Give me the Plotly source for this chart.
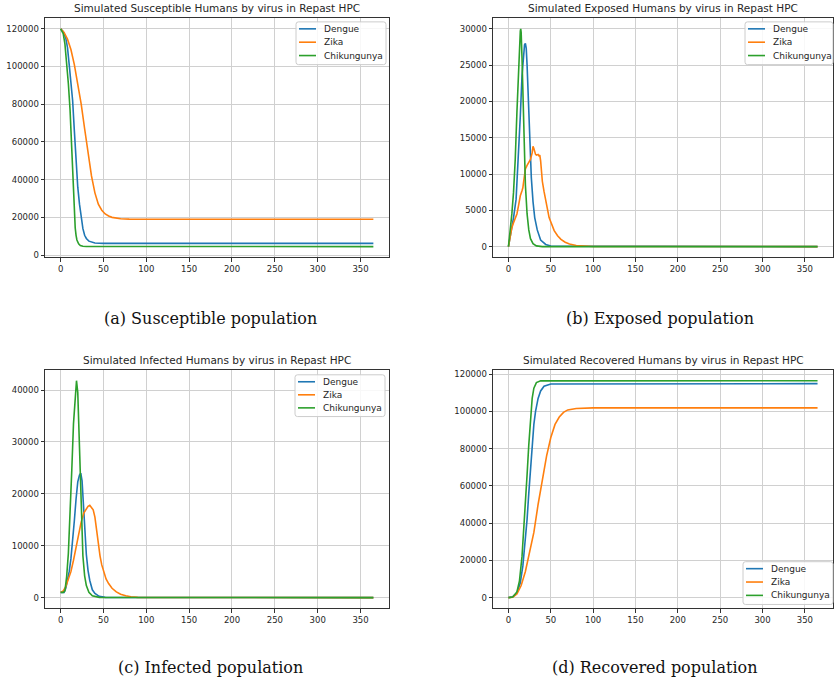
import plotly.graph_objects as go

W, H = 834, 686

SERIES_NAMES = ["Dengue", "Zika", "Chikungunya"]
COLORS = ["#1f77b4", "#ff7f0e", "#2ca02c"]

# ---------------- Susceptible ----------------
S_DENGUE_DAYS = [0, 3, 6, 8, 10, 12, 14, 16, 18, 20, 22, 24, 26, 28, 30, 33, 36, 40, 50, 365]
S_DENGUE = [120000, 118500, 115000, 110000, 101000, 92000, 82000, 66000, 50000, 36000, 27000,
            19500, 14000, 10500, 8800, 7400, 6800, 6400, 6200, 6200]
S_ZIKA_DAYS = [0, 4, 8, 12, 16, 20, 24, 28, 32, 36, 40, 44, 48, 52, 56, 60, 70, 80, 100, 365]
S_ZIKA = [120000, 118000, 114500, 109000, 101000, 91000, 80000, 67000, 54000, 42000, 33000,
          27000, 23800, 21800, 20700, 20000, 19300, 19050, 19000, 19000]
S_CHIK_DAYS = [0, 3, 5, 7, 9, 11, 12, 13, 14, 15, 16, 17, 18, 19, 21, 23, 26, 30, 365]
S_CHIK = [120000, 117500, 112000, 102500, 91000, 77000, 66000, 52000, 40000, 31000, 21000,
          14500, 10500, 8000, 6000, 5100, 4700, 4550, 4500]

# ---------------- Exposed ----------------
E_DENGUE_DAYS = [0, 3, 6, 9, 12, 14, 16, 18, 19, 20, 21, 22, 23, 24, 25, 27, 29, 31, 34, 38, 44, 50, 365]
E_DENGUE = [0, 1800, 4000, 6500, 12500, 18000, 23500, 27000, 27800, 28000, 27300, 25000, 21500,
            18000, 15000, 9500, 6200, 4000, 2300, 900, 300, 80, 0]
E_ZIKA_DAYS = [0, 2, 4, 6, 8, 10, 12, 14, 16, 17, 18, 19, 20, 22, 24, 26, 28, 29, 30, 31, 32, 33, 34,
               35, 36, 37, 38, 39, 40, 42, 44, 46, 48, 51, 54, 58, 62, 67, 72, 80, 90, 100, 365]
E_ZIKA = [0, 1500, 2600, 3300, 3900, 4500, 5700, 7000, 7700, 8100, 9000, 10000, 10700, 11200, 11600,
          12000, 12900, 13800, 13500, 13000, 12700, 12600, 12700, 12700, 12500, 12600, 11800, 10500,
          9000, 7600, 6600, 5200, 4000, 3000, 2200, 1500, 1000, 600, 350, 150, 50, 20, 0]
E_CHIK_DAYS = [0, 2, 4, 6, 8, 10, 12, 13, 14, 14.5, 15, 16, 17, 18, 19, 20, 22, 24, 26, 29, 33, 40, 365]
E_CHIK = [0, 2000, 4500, 7500, 12000, 18500, 25500, 28500, 29700, 30000, 29500, 26000, 21000, 16000,
          12000, 8500, 4500, 2300, 1100, 400, 100, 0, 0]

# ---------------- Infected ----------------
I_DENGUE_DAYS = [0, 4, 6, 8, 10, 12, 14, 16, 18, 20, 22, 23.5, 25, 26, 27, 28, 29, 30, 32, 34, 37, 40,
                 45, 52, 365]
I_DENGUE = [1000, 1000, 1800, 3300, 5000, 7500, 10800, 14800, 19000, 22300, 23600, 24000, 22500,
            19500, 16500, 13000, 10500, 8300, 5200, 3300, 1500, 800, 250, 50, 0]
I_ZIKA_DAYS = [0, 3, 6, 9, 12, 15, 18, 21, 24, 27, 30, 32, 34, 36, 38, 40, 42, 44, 46, 48, 50, 53, 56,
               60, 65, 70, 76, 82, 90, 100, 365]
I_ZIKA = [1000, 1300, 2100, 3400, 5000, 7200, 9800, 12300, 14600, 16300, 17200, 17600, 17800, 17400,
          16900, 15500, 12800, 10300, 8000, 6300, 5000, 3600, 2700, 1800, 1100, 650, 350, 150, 50, 10, 0]
I_CHIK_DAYS = [0, 3, 5, 7, 9, 11, 13, 15, 17, 18.5, 20, 21, 22, 23, 24, 25, 26, 28, 30, 33, 37, 45, 365]
I_CHIK = [1000, 1000, 1300, 4000, 8500, 15500, 24500, 33500, 39500, 41800, 39500, 34500, 27500, 21000,
          15500, 11000, 8000, 4200, 2300, 1000, 350, 50, 0]

# ---------------- Recovered ----------------
R_DENGUE_DAYS = [0, 5, 10, 14, 17, 20, 22, 24, 26, 28, 30, 32, 35, 38, 42, 50, 365]
R_DENGUE = [0, 400, 2500, 8000, 17000, 30000, 42000, 56000, 70000, 83000, 93000, 100000, 107000,
            111000, 113500, 114700, 114900]
R_ZIKA_DAYS = [0, 5, 10, 15, 20, 25, 30, 35, 40, 45, 50, 55, 60, 65, 70, 80, 100, 365]
R_ZIKA = [0, 200, 2000, 6500, 14000, 24000, 35000, 50000, 63000, 76000, 86000, 93000, 97000, 99500,
          100800, 101600, 101900, 101900]
R_CHIK_DAYS = [0, 5, 10, 13, 16, 18, 20, 22, 24, 26, 28, 30, 33, 38, 365]
R_CHIK = [0, 300, 3000, 9000, 22000, 35000, 50000, 66000, 82000, 97000, 107000, 112500, 115500,
          116400, 116500]

X_TICKS = [0, 50, 100, 150, 200, 250, 300, 350]

PANELS = [
    dict(title="Simulated Susceptible Humans by virus in Repast HPC",
         caption="(a) Susceptible population",
         data=[(S_DENGUE_DAYS, S_DENGUE), (S_ZIKA_DAYS, S_ZIKA), (S_CHIK_DAYS, S_CHIK)],
         yticks=[0, 20000, 40000, 60000, 80000, 100000, 120000]),
    dict(title="Simulated Exposed Humans by virus in Repast HPC",
         caption="(b) Exposed population",
         data=[(E_DENGUE_DAYS, E_DENGUE), (E_ZIKA_DAYS, E_ZIKA), (E_CHIK_DAYS, E_CHIK)],
         yticks=[0, 5000, 10000, 15000, 20000, 25000, 30000]),
    dict(title="Simulated Infected Humans by virus in Repast HPC",
         caption="(c) Infected population",
         data=[(I_DENGUE_DAYS, I_DENGUE), (I_ZIKA_DAYS, I_ZIKA), (I_CHIK_DAYS, I_CHIK)],
         yticks=[0, 10000, 20000, 30000, 40000]),
    dict(title="Simulated Recovered Humans by virus in Repast HPC",
         caption="(d) Recovered population",
         data=[(R_DENGUE_DAYS, R_DENGUE), (R_ZIKA_DAYS, R_ZIKA), (R_CHIK_DAYS, R_CHIK)],
         yticks=[0, 20000, 40000, 60000, 80000, 100000, 120000]),
]

# pixel geometry of each plot area: (left, right, top, bottom)
BOXES = [(45, 389, 17, 258), (493, 833, 17, 258), (45, 389, 371, 611), (493, 833, 371, 611)]
CAPTION_Y = [319, 319, 670, 670]
CAPTION_X = [211, 660, 211, 654]
# legend boxes in px: (left, right, top, bottom)
LEGEND_BOX = [(296, 386, 21, 64), (745, 833, 21, 64), (295, 385, 376, 418), (743, 833, 564, 607)]

TEXT = "#262626"
FONT = "DejaVu Sans"


def px(x):
    return x / W


def py(y):
    return 1 - y / H


fig = go.Figure()
shapes = []
annotations = []

for i, p in enumerate(PANELS):
    k = "" if i == 0 else str(i + 1)
    for (xs, ys), name, col in zip(p["data"], SERIES_NAMES, COLORS):
        fig.add_trace(go.Scatter(x=xs, y=ys, mode="lines", name=name,
                                 line=dict(color=col, width=1.6),
                                 xaxis="x" + k, yaxis="y" + k, showlegend=False))
    l, r, t, b = BOXES[i]
    allv = [v for _, ys in p["data"] for v in ys]
    lo, hi = min(allv), max(allv)
    pad = 0.05 * (hi - lo)
    common = dict(showline=True, mirror=True, linecolor="#333333", linewidth=1,
                  ticks="outside", ticklen=3.5, tickcolor="#333333", tickwidth=0.8,
                  showgrid=True, gridcolor="#d0d0d0", gridwidth=1, zeroline=False,
                  tickfont=dict(family=FONT, size=8.5, color=TEXT))
    fig.update_layout(**{
        "xaxis" + k: dict(domain=[px(l), px(r)], anchor="y" + k, range=[-18.25, 383.25],
                          tickvals=X_TICKS, **common),
        "yaxis" + k: dict(domain=[py(b), py(t)], anchor="x" + k, range=[lo - pad, hi + pad],
                          tickvals=p["yticks"], tickformat="d", **common),
    })
    # title
    annotations.append(dict(x=px((l + r) / 2), y=py(t - 2), xref="paper", yref="paper",
                            text=p["title"], showarrow=False, xanchor="center", yanchor="bottom",
                            font=dict(family=FONT, size=10.5, color=TEXT)))
    # caption
    annotations.append(dict(x=px(CAPTION_X[i]), y=py(CAPTION_Y[i]), xref="paper", yref="paper",
                            text=p["caption"], showarrow=False, xanchor="center", yanchor="middle",
                            font=dict(family="DejaVu Serif", size=16, color="#111111")))
    # legend (drawn manually, matplotlib style)
    bl, br, bt, bb = LEGEND_BOX[i]
    rr = 2.5
    path = (f"M {px(bl + rr)},{py(bt)} L {px(br - rr)},{py(bt)} "
            f"Q {px(br)},{py(bt)} {px(br)},{py(bt + rr)} L {px(br)},{py(bb - rr)} "
            f"Q {px(br)},{py(bb)} {px(br - rr)},{py(bb)} L {px(bl + rr)},{py(bb)} "
            f"Q {px(bl)},{py(bb)} {px(bl)},{py(bb - rr)} L {px(bl)},{py(bt + rr)} "
            f"Q {px(bl)},{py(bt)} {px(bl + rr)},{py(bt)} Z")
    shapes.append(dict(type="path", path=path, xref="paper", yref="paper", layer="above",
                       fillcolor="rgba(255,255,255,0.85)", line=dict(color="#cccccc", width=1)))
    step = (bb - bt) / 3.2
    for j, (name, col) in enumerate(zip(SERIES_NAMES, COLORS)):
        ey = bt + 7 + j * step
        shapes.append(dict(type="line", xref="paper", yref="paper", layer="above",
                           x0=px(bl + 3), x1=px(bl + 20), y0=py(ey), y1=py(ey),
                           line=dict(color=col, width=1.6)))
        annotations.append(dict(x=px(bl + 26), y=py(ey), xref="paper", yref="paper",
                                text=name, showarrow=False, xanchor="left", yanchor="middle",
                                font=dict(family=FONT, size=9, color=TEXT)))

fig.update_layout(width=W, height=H, margin=dict(l=0, r=0, t=0, b=0),
                  paper_bgcolor="white", plot_bgcolor="white", showlegend=False,
                  shapes=shapes, annotations=annotations)
fig.write_html("out.html", config={"displayModeBar": False},
               post_script="document.body.style.margin='0';")
